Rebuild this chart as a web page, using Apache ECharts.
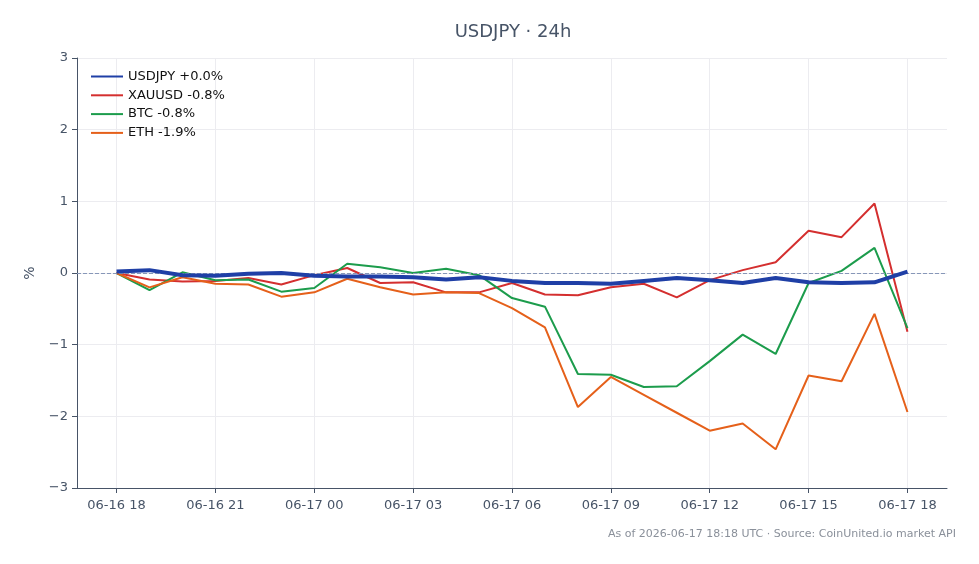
<!DOCTYPE html>
<html lang="en">
<head>
    <meta charset="UTF-8">
    <script src="https://cdn.jsdelivr.net/npm/echarts@6/dist/echarts.min.js"></script>
    <title>USDJPY 24h</title>
</head>
<body style="margin:0;background:#fff;">
<div id="main" style="width: 979px;height:564px;"></div>

<script type="text/javascript">
    // hours since 06-16 18:00 UTC
    var hours = [0,1,2,3,4,5,6,7,8,9,10,11,12,13,14,15,16,17,18,19,20,21,22,23,24];
    var tickHours = [0,3,6,9,12,15,18,21,24];
    var tickLabels = ['06-16 18','06-16 21','06-17 00','06-17 03','06-17 06','06-17 09','06-17 12','06-17 15','06-17 18'];

    var usdjpy = [0.02,0.04,-0.03,-0.04,-0.01,0.00,-0.04,-0.05,-0.05,-0.06,-0.09,-0.06,-0.11,-0.14,-0.14,-0.15,-0.11,-0.07,-0.10,-0.14,-0.07,-0.13,-0.14,-0.13,0.02];
    var xauusd = [0.00,-0.09,-0.12,-0.11,-0.07,-0.16,-0.03,0.07,-0.14,-0.13,-0.27,-0.27,-0.14,-0.30,-0.31,-0.20,-0.15,-0.34,-0.10,0.04,0.15,0.59,0.50,0.97,-0.82];
    var btc = [0.00,-0.24,0.01,-0.10,-0.09,-0.26,-0.21,0.13,0.08,0.00,0.06,-0.03,-0.35,-0.47,-1.41,-1.42,-1.59,-1.58,-1.23,-0.86,-1.13,-0.14,0.03,0.35,-0.77];
    var eth = [0.00,-0.20,-0.06,-0.15,-0.16,-0.33,-0.27,-0.08,-0.20,-0.30,-0.27,-0.28,-0.49,-0.76,-1.87,-1.45,-1.70,-1.95,-2.20,-2.10,-2.46,-1.43,-1.51,-0.57,-1.94];

    var names = ['USDJPY +0.0%','XAUUSD -0.8%','BTC -0.8%','ETH -1.9%'];
    var colors = ['#1f3fa6','#d42f2f','#1c9c4c','#e5601a'];
    var values = [usdjpy, xauusd, btc, eth];

    function pairs(arr) {
        var out = [];
        for (var i = 0; i < hours.length; i++) {
            out.push([hours[i], arr[i]]);
        }
        return out;
    }

    var myChart = echarts.init(document.getElementById('main'));
    var series = [];
    for (var i = 0; i < values.length; i++) {
        series.push({
            name: names[i],
            type: 'line',
            symbol: 'none',
            z: i === 0 ? 5 : 3,
            lineStyle: {width: i === 0 ? 4 : 2, color: colors[i]},
            itemStyle: {color: colors[i]},
            data: pairs(values[i])
        });
    }
    // dashed zero line
    series.push({
        type: 'line',
        data: [],
        z: 1,
        markLine: {
            silent: true,
            symbol: 'none',
            label: {show: false},
            lineStyle: {type: 'dashed', color: '#8797b8', width: 1},
            data: [{yAxis: 0}]
        }
    });

    var option = {
        animation: false,
        color: colors,
        title: {
            text: 'USDJPY · 24h',
            left: 508,
            top: 18,
            textAlign: 'center',
            textStyle: {fontSize: 18, fontWeight: 'normal', color: '#475467', fontFamily: 'DejaVu Sans'}
        },
        legend: {
            data: names,
            orient: 'vertical',
            left: 85,
            top: 65,
            itemWidth: 32,
            itemHeight: 14,
            itemGap: 5.8,
            itemStyle: {opacity: 0},
            textStyle: {fontSize: 13, color: '#111', fontFamily: 'DejaVu Sans'}
        },
        grid: {
            left: 77,
            right: 32,
            top: 58,
            bottom: 76
        },
        xAxis: {
            type: 'value',
            min: -1.2,
            max: 25.2,
            axisLine: {show: true, onZero: false, lineStyle: {color: '#475467'}},
            axisTick: {show: true, length: 5, customValues: tickHours, lineStyle: {color: '#475467'}},
            axisLabel: {
                customValues: tickHours,
                fontSize: 13,
                color: '#475467',
                margin: 11,
                fontFamily: 'DejaVu Sans',
                formatter: function (v) {
                    return tickLabels[tickHours.indexOf(v)];
                }
            },
            splitLine: {show: true, lineStyle: {color: '#ececf0'}}
        },
        yAxis: {
            type: 'value',
            min: -3,
            max: 3,
            interval: 1,
            name: '%',
            nameLocation: 'middle',
            nameGap: 40,
            nameTextStyle: {fontSize: 14, color: '#475467', fontFamily: 'DejaVu Sans'},
            axisLine: {show: true, onZero: false, lineStyle: {color: '#475467'}},
            axisTick: {show: true, length: 5, lineStyle: {color: '#475467'}},
            axisLabel: {
                fontSize: 13,
                color: '#475467',
                margin: 9,
                fontFamily: 'DejaVu Sans',
                formatter: function (v) {
                    return v < 0 ? '\u2212' + (-v) : String(v);
                }
            },
            splitLine: {show: true, lineStyle: {color: '#ececf0'}}
        },
        graphic: [{
            type: 'text',
            right: 23,
            top: 529,
            style: {
                text: 'As of 2026-06-17 18:18 UTC · Source: CoinUnited.io market API',
                fontSize: 11,
                fill: '#8a909a',
                fontFamily: 'DejaVu Sans'
            }
        }],
        series: series
    };
    myChart.setOption(option);
</script>
</body>
</html>
